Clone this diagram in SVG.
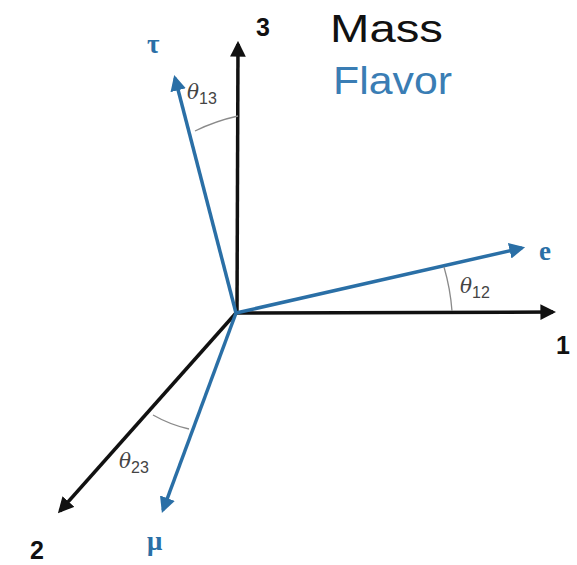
<svg xmlns="http://www.w3.org/2000/svg" width="577" height="565" viewBox="0 0 577 565">
<style>
.ax{stroke:#111;stroke-width:3.5;fill:none}
.fl{stroke:#2a6fa6;stroke-width:3.5;fill:none}
.arc{stroke:#8a8a8a;stroke-width:1.3;fill:none}
.num{font-family:"Liberation Sans",Arial,sans-serif;font-weight:bold;font-size:25px;fill:#111}
.gr{font-family:"Liberation Serif","Times New Roman",serif;font-weight:bold;font-size:27px;fill:#2a6fa6}
.th{font-family:"DejaVu Serif","Liberation Serif",serif;font-style:italic;font-size:20px;fill:#444}
.sub{font-family:"Liberation Sans",Arial,sans-serif;font-style:normal;font-size:16px;fill:#444}
.big{font-family:"Liberation Sans",Arial,sans-serif;font-size:38px}
</style>
<defs>
<marker id="ha" viewBox="0 0 10 10" refX="8" refY="5" markerWidth="4.5" markerHeight="4.5" orient="auto" markerUnits="strokeWidth"><path d="M0,0 L10,5 L0,10 Z" fill="#111"/></marker>
<marker id="hb" viewBox="0 0 10 10" refX="8" refY="5" markerWidth="4.5" markerHeight="4.5" orient="auto" markerUnits="strokeWidth"><path d="M0,0 L10,5 L0,10 Z" fill="#2a6fa6"/></marker>
</defs>
<g id="connectors">
<line id="axis3" class="ax" x1="237" y1="313" x2="238" y2="44" marker-end="url(#ha)"/>
<line id="axis1" class="ax" x1="236" y1="313" x2="553" y2="312" marker-end="url(#ha)"/>
<line id="axis2" class="ax" x1="236" y1="313" x2="60" y2="511" marker-end="url(#ha)"/>
<line id="tau" class="fl" x1="236" y1="313" x2="175" y2="78" marker-end="url(#hb)"/>
<line id="e" class="fl" x1="236" y1="313" x2="522" y2="248" marker-end="url(#hb)"/>
<line id="mu" class="fl" x1="236" y1="313" x2="163" y2="510" marker-end="url(#hb)"/>
<path class="arc" d="M195,131 A190,190 0 0 1 238,116"/>
<path class="arc" d="M444,267 A215,215 0 0 1 452,311"/>
<path class="arc" d="M153,415 A130,130 0 0 0 189,429"/>
</g>
<g id="label3"><text class="num" x="256" y="36">3</text></g>
<g id="label1"><text class="num" x="556" y="354">1</text></g>
<g id="label2"><text class="num" x="30" y="559">2</text></g>
<g id="labelTau"><text class="gr" x="147" y="53">τ</text></g>
<g id="labelE"><text class="gr" x="539" y="260">e</text></g>
<g id="labelMu"><text class="gr" x="147" y="550">μ</text></g>
<g id="theta13"><text class="th" x="187" y="99">θ<tspan class="sub" dy="5">13</tspan></text></g>
<g id="theta12"><text class="th" x="460" y="293">θ<tspan class="sub" dy="5">12</tspan></text></g>
<g id="theta23"><text class="th" x="119" y="468">θ<tspan class="sub" dy="5">23</tspan></text></g>
<g id="legend">
<text class="big" x="330" y="42" fill="#111" textLength="113" lengthAdjust="spacingAndGlyphs">Mass</text>
<text class="big" x="333" y="94" fill="#3a7db4" textLength="119" lengthAdjust="spacingAndGlyphs">Flavor</text>
</g>
</svg>
